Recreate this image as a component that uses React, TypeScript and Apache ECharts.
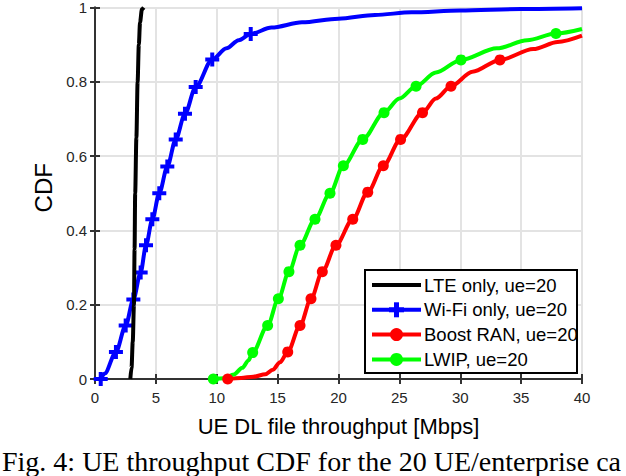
import React, { useEffect, useRef } from "react";
import * as echarts from "echarts";

// ---- data ----
const xTicks = [0, 5, 10, 15, 20, 25, 30, 35, 40];
const yTicks = [0, 0.2, 0.4, 0.6, 0.8, 1];

const lteCurve: [number, number][] = [
  [2.9, 0], [3.0, 0.03], [3.1, 0.1], [3.2, 0.2], [3.25, 0.35], [3.3, 0.5],
  [3.4, 0.65], [3.5, 0.8], [3.6, 0.9], [3.7, 0.96], [3.85, 0.995], [4.0, 1.0],
];

const wifiMarkers: [number, number][] = [
  [0.47, 0], [1.72, 0.073], [2.52, 0.144], [3.15, 0.214], [3.75, 0.287],
  [4.19, 0.36], [4.71, 0.43], [5.28, 0.5], [5.94, 0.572], [6.63, 0.645],
  [7.39, 0.714], [8.27, 0.786], [9.63, 0.86], [12.79, 0.929],
];
const wifiCurve: [number, number][] = [
  [0.8, 0.015], [10.8, 0.89], [11.8, 0.912], [14.5, 0.946], [17, 0.96],
  [20, 0.97], [23, 0.98], [26, 0.987], [30, 0.992], [35, 0.996], [40, 0.998],
];

const boostMarkers: [number, number][] = [
  [10.9, 0], [15.83, 0.073], [16.84, 0.144], [17.74, 0.216], [18.67, 0.289],
  [19.79, 0.36], [21.17, 0.43], [22.4, 0.503], [23.68, 0.574], [25.1, 0.645],
  [26.9, 0.717], [29.24, 0.788], [33.26, 0.859],
];
const boostCurve: [number, number][] = [
  [12, 0.003], [13, 0.006], [14, 0.013], [14.6, 0.025], [15.2, 0.045],
  [28, 0.755], [31, 0.827], [36, 0.888], [38, 0.907], [40, 0.924],
];

const lwipMarkers: [number, number][] = [
  [9.72, 0], [12.95, 0.071], [14.18, 0.144], [15.06, 0.216], [15.93, 0.289],
  [16.84, 0.36], [18.07, 0.43], [19.3, 0.5], [20.4, 0.574], [21.99, 0.645],
  [23.74, 0.717], [26.37, 0.788], [30.06, 0.859], [37.86, 0.93],
];
const lwipCurve: [number, number][] = [
  [10.6, 0.002], [11.4, 0.012], [12.1, 0.03], [12.6, 0.05],
  [25, 0.755], [28, 0.825], [33, 0.89], [35.5, 0.912], [40, 0.942],
];

const seriesNames = [
  "LTE only, ue=20",
  "Wi-Fi only, ue=20",
  "Boost RAN, ue=20",
  "LWIP, ue=20",
];
const seriesColors = ["#000000", "#0000ff", "#ff0000", "#00ff00"];
const seriesMarkers = ["none", "plus", "circle", "circle"];

const xLabel = "UE DL file throughput [Mbps]";
const yLabel = "CDF";
const caption = "Fig. 4: UE throughput CDF for the 20 UE/enterprise ca";

const PLUS = "path://M5,0 H9 V5 H14 V9 H9 V14 H5 V9 H0 V5 H5 Z";

function merge(curve: [number, number][], markers: [number, number][]) {
  const pts = [
    ...curve.map((p) => ({ value: p, symbol: "none" })),
    ...markers.map((p) => ({ value: p })),
  ];
  pts.sort((a, b) => a.value[0] - b.value[0]);
  return pts;
}

function legendGraphics(font: string) {
  const left = 365, top = 270, w = 212, h = 103;
  const els: any[] = [
    {
      type: "rect",
      z: 100,
      shape: { x: left, y: top, width: w, height: h },
      style: { fill: "#fff", stroke: "#000", lineWidth: 2 },
    },
  ];
  seriesNames.forEach((name, i) => {
    const cy = 285 + i * 24.8;
    const c = seriesColors[i];
    els.push({
      type: "line",
      z: 101,
      shape: { x1: 372, y1: cy, x2: 421, y2: cy },
      style: { stroke: c, lineWidth: 4 },
    });
    if (seriesMarkers[i] === "circle") {
      els.push({ type: "circle", z: 102, shape: { cx: 396.5, cy, r: 6.5 }, style: { fill: c } });
    } else if (seriesMarkers[i] === "plus") {
      els.push({ type: "rect", z: 102, shape: { x: 394, y: cy - 7.5, width: 5, height: 15 }, style: { fill: c } });
      els.push({ type: "rect", z: 102, shape: { x: 389, y: cy - 2.5, width: 15, height: 5 }, style: { fill: c } });
    }
    els.push({
      type: "text",
      z: 103,
      x: 424,
      y: cy,
      style: {
        text: name,
        fontFamily: font,
        fontSize: 18.5,
        fill: "#000",
        verticalAlign: "middle",
        align: "left",
      },
    });
  });
  return els;
}

export default function App() {
  const ref = useRef<HTMLDivElement>(null);
  useEffect(() => {
    document.body.style.margin = "0";
    const chart = echarts.init(ref.current!, null, { renderer: "svg" });
    const font = "'Liberation Sans', Arial, sans-serif";
    const axisColor = "#333333";
    const common = {
      min: 0,
      axisLine: { show: true, lineStyle: { color: axisColor, width: 2 } },
      axisTick: { show: true, inside: true, length: 5, lineStyle: { color: axisColor, width: 2 } },
    };
    chart.setOption({
      animation: false,
      backgroundColor: "#ffffff",
      grid: { left: 95, right: 44, top: 5, bottom: 97 },
      xAxis: [
        {
          ...common,
          type: "value",
          max: 40,
          interval: 5,
          position: "bottom",
          name: xLabel,
          nameLocation: "middle",
          nameGap: 36,
          nameTextStyle: { fontFamily: font, fontSize: 22, color: "#000" },
          axisLabel: {
            fontFamily: font, fontSize: 15, color: "#262626", margin: 11,
            formatter: (v: number) => (xTicks.includes(v) ? String(v) : ""),
          },
          splitLine: { show: true, lineStyle: { color: "#e3e3e3", width: 2 } },
        },
        {
          ...common,
          type: "value",
          max: 40,
          interval: 5,
          position: "top",
          axisLabel: { show: false },
          splitLine: { show: false },
        },
      ],
      yAxis: [
        {
          ...common,
          type: "value",
          max: 1,
          interval: 0.2,
          position: "left",
          name: yLabel,
          nameLocation: "middle",
          nameGap: 39,
          nameTextStyle: { fontFamily: font, fontSize: 24, color: "#000", padding: [0, 0, 0, 11] },
          axisLabel: {
            fontFamily: font, fontSize: 15, color: "#262626", margin: 8,
            formatter: (v: number) => {
              const t = yTicks.find((k) => Math.abs(k - v) < 1e-9);
              return t === undefined ? "" : String(Math.round(t * 10) / 10);
            },
          },
          splitLine: { show: true, lineStyle: { color: "#e3e3e3", width: 2 } },
        },
        {
          ...common,
          type: "value",
          max: 1,
          interval: 0.2,
          position: "right",
          axisLabel: { show: false },
          splitLine: { show: false },
        },
      ],
      series: [
        {
          name: seriesNames[0],
          type: "line",
          data: lteCurve,
          symbol: "none",
          smooth: 0.3,
          smoothMonotone: "x",
          lineStyle: { color: seriesColors[0], width: 4 },
          itemStyle: { color: seriesColors[0] },
          z: 5,
        },
        {
          name: seriesNames[1],
          type: "line",
          data: merge(wifiCurve, wifiMarkers),
          symbol: PLUS,
          symbolSize: 14,
          smooth: 0.3,
          smoothMonotone: "x",
          lineStyle: { color: seriesColors[1], width: 4 },
          itemStyle: { color: seriesColors[1] },
          z: 4,
        },
        {
          name: seriesNames[2],
          type: "line",
          data: merge(boostCurve, boostMarkers),
          symbol: "circle",
          symbolSize: 11,
          smooth: 0.3,
          smoothMonotone: "x",
          lineStyle: { color: seriesColors[2], width: 4 },
          itemStyle: { color: seriesColors[2] },
          z: 3,
        },
        {
          name: seriesNames[3],
          type: "line",
          data: merge(lwipCurve, lwipMarkers),
          symbol: "circle",
          symbolSize: 11,
          smooth: 0.3,
          smoothMonotone: "x",
          lineStyle: { color: seriesColors[3], width: 4 },
          itemStyle: { color: seriesColors[3] },
          z: 3,
        },
      ],
      graphic: [
        ...legendGraphics(font),
        {
          type: "text",
          x: 2,
          y: 475,
          style: {
            text: caption,
            fontFamily: "'Liberation Serif', 'Times New Roman', serif",
            fontSize: 28,
            fill: "#000",
            verticalAlign: "bottom",
            align: "left",
          },
        },
      ],
    });
    return () => chart.dispose();
  }, []);
  return <div ref={ref} style={{ width: 626, height: 476 }} />;
}
